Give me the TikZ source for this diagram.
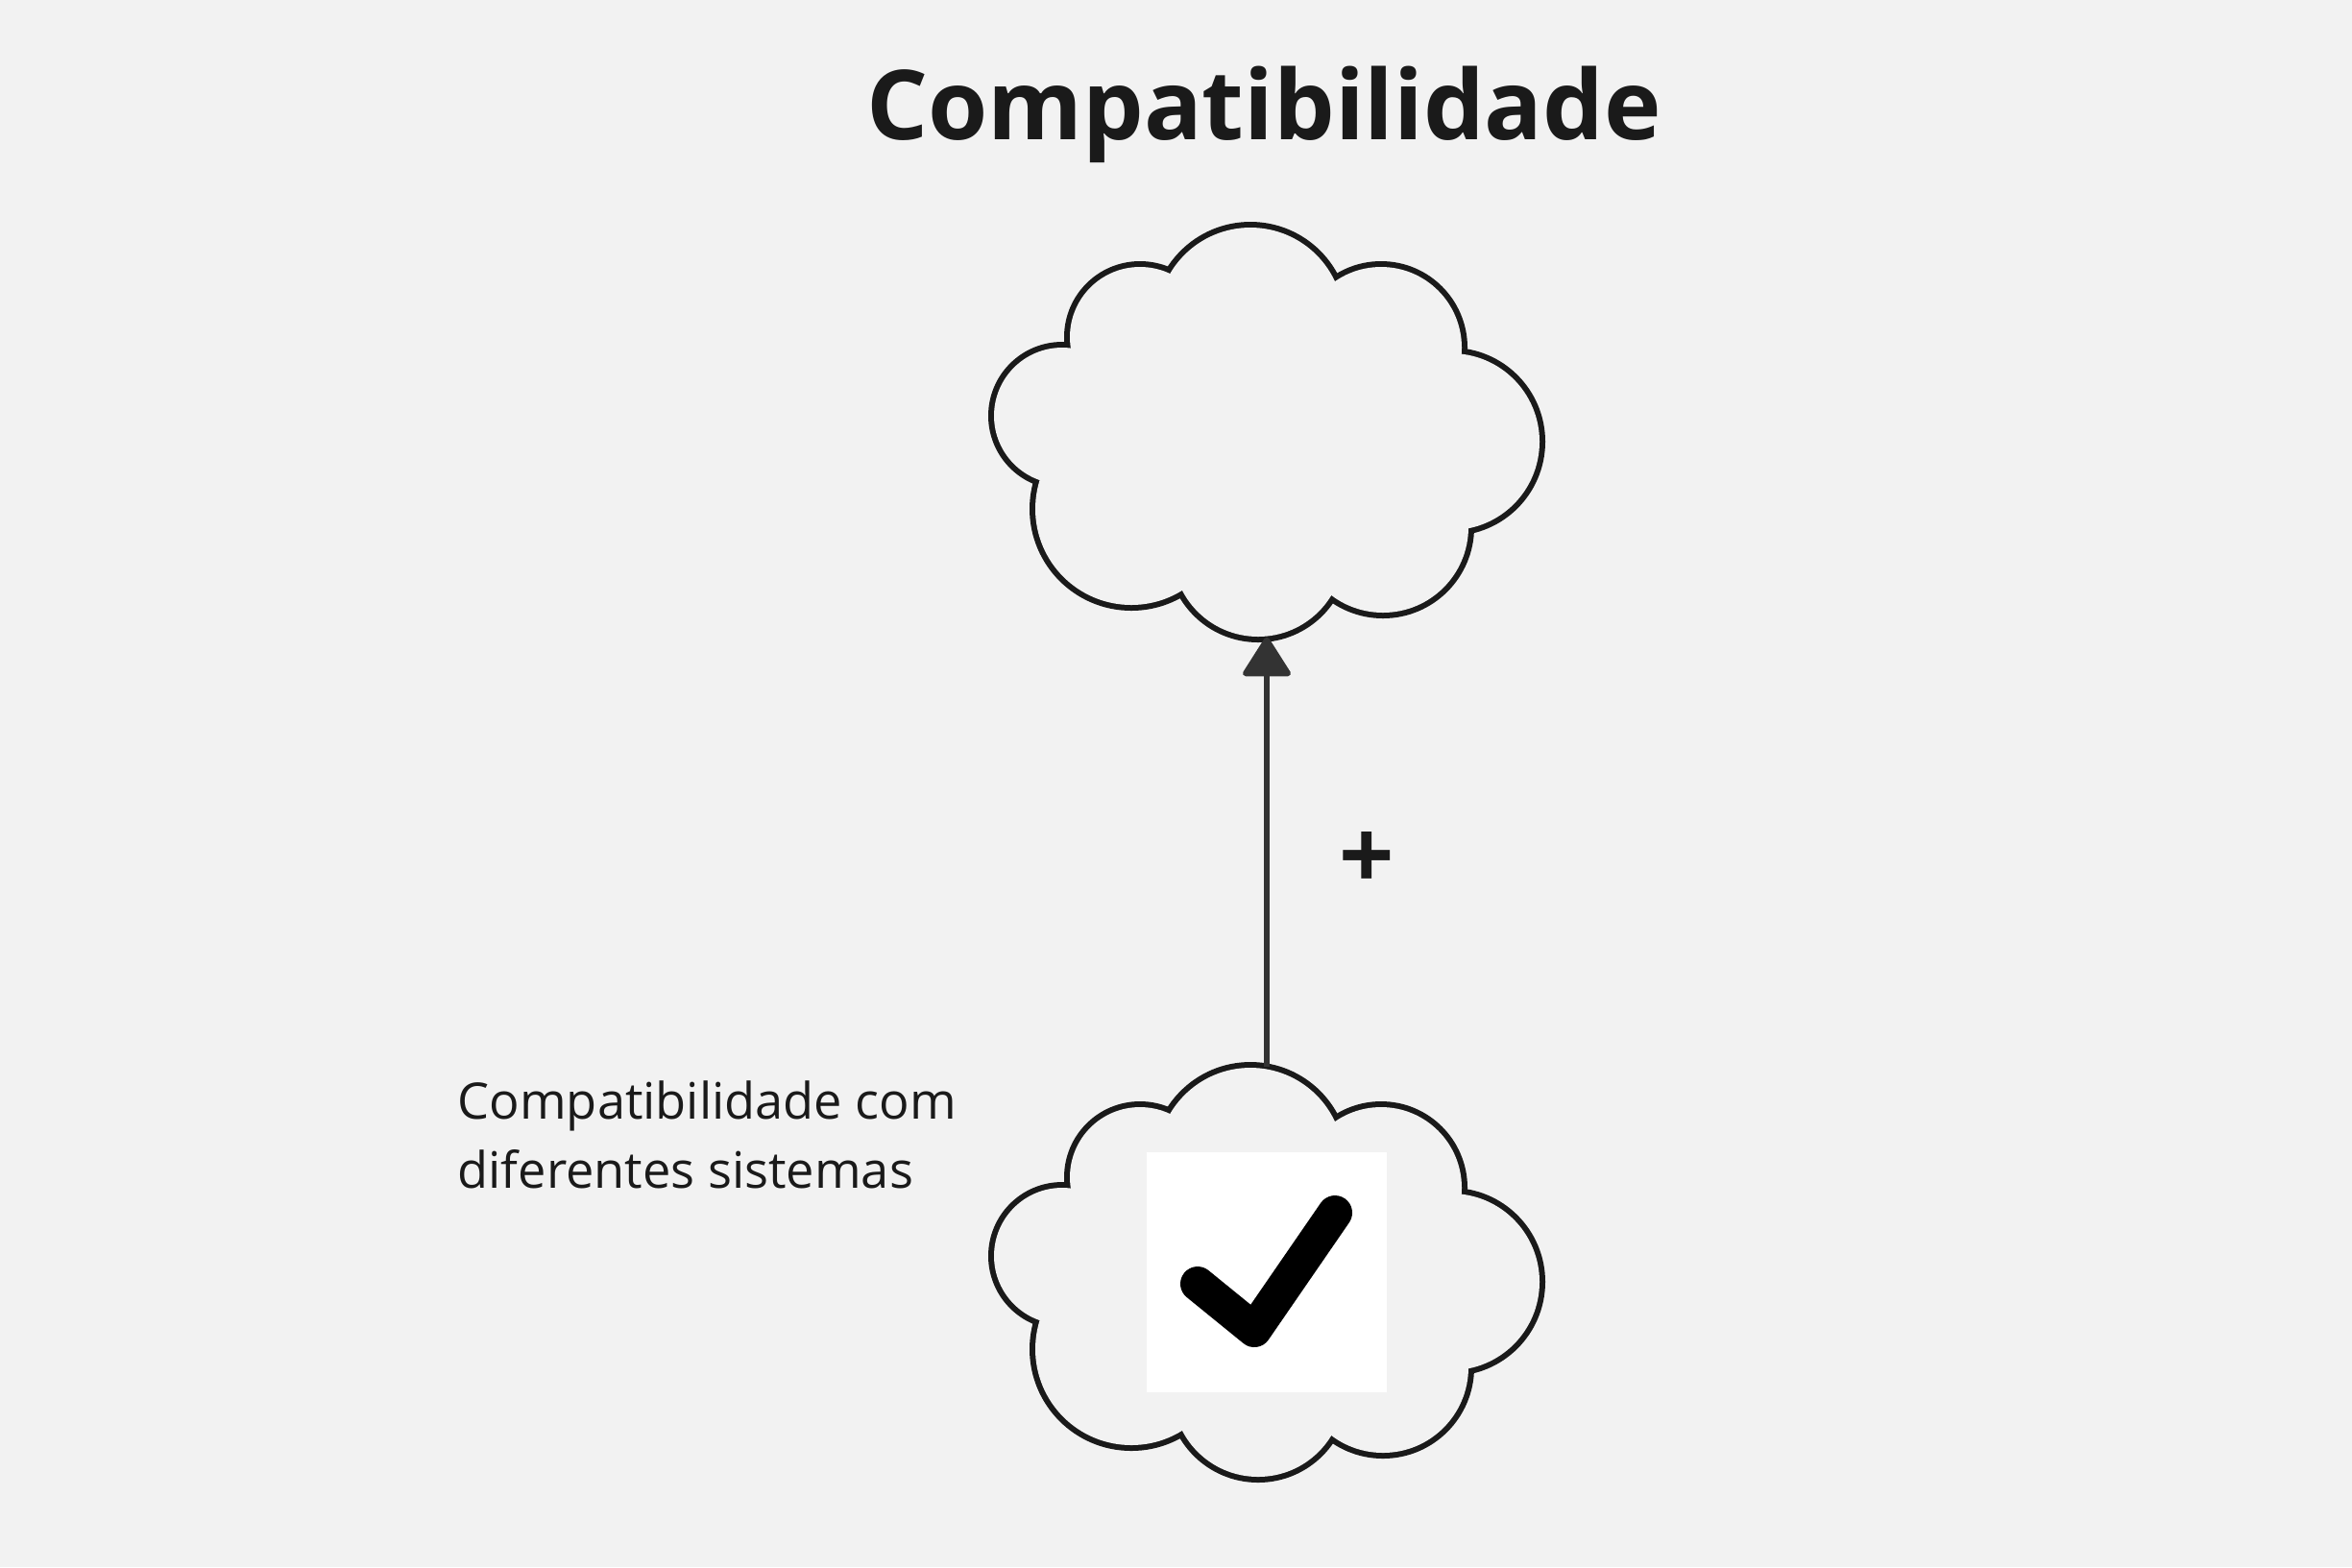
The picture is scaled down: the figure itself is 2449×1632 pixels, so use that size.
\documentclass[tikz,border=0pt]{standalone}
\usepackage{fontspec}
\setmainfont{Open Sans}
\usetikzlibrary{arrows.meta}

\definecolor{papel}{HTML}{F2F2F2}
\definecolor{tinta}{HTML}{1A1A1A}
\definecolor{traco}{HTML}{333333}

% lobes of the cloud: centre x / centre y / radius
\newcommand{\lobos}{-17/-116/97, 119/-88/84, 192/10/92, 121/99/89, -9/124/89, -141/80/100, -213/-17/71, -132/-99/73}

\tikzset{
	nuvemcaixa/.style = {minimum width = 170.4pt, minimum height = 127.8pt, inner sep = 0pt},
	pics/nuvem/.style = {code = {
		\foreach \cx/\cy/\rad in \lobos
			\draw [tinta, line width = 3.6pt] (\cx, \cy) circle [radius = \rad * 0.3pt];
		\foreach \cx/\cy/\rad in \lobos
			\fill [papel] (\cx, \cy) circle [radius = \rad * 0.3pt];
		\fill [papel] (-101, -165) -- (71, -157) -- (198, -82) -- (210, 100) -- (67, 170) -- (-88, 165) -- (-228, 52) -- (-202, -87) -- cycle;
	}}
}

\begin{document}
\begin{tikzpicture}[x = 0.3pt, y = -0.3pt, > = {Triangle[length = 13pt, width = 16pt, round]}]

	\fill [papel] (0, 0) rectangle (2449, 1632);
	\useasboundingbox (0, 0) rectangle (2449, 1632);

	% Title

	\node (titulo) [anchor = base, tinta, font = \fontsize{30.2}{36}\selectfont\bfseries] at (1316, 145) {Compatibilidade};

	% Clouds

	\node (nuvemtopo) [nuvemcaixa] at (1319, 450) {};
	\pic at (nuvemtopo.center) {nuvem};

	\node (nuvembase) [nuvemcaixa] at (1319, 1325) {};
	\pic at (nuvembase.center) {nuvem};

	% Check icon

	\node (icone) [fill = white, minimum size = 75pt, inner sep = 0pt] at (nuvembase.center) {};
	\draw [line width = 10.8pt, line cap = round, line join = round, shift = {(icone.center)}] (-72, 12) -- (-13, 60) -- (71, -62);

	% Link w/ sign

	\draw [traco, line width = 1.8pt, ->] (nuvembase.north) -- (nuvemtopo.south);
	\node (sinal) [tinta, font = \fontsize{30.2}{36}\selectfont\bfseries] at (1423, 896) {+};

	% Label

	\node (rotulo) [anchor = base west, align = left, inner sep = 0pt, tinta, font = \fontsize{15.7}{21.6}\selectfont] at (476, 1237) {Compatibilidade com\\diferentes sistemas};

\end{tikzpicture}
\end{document}
